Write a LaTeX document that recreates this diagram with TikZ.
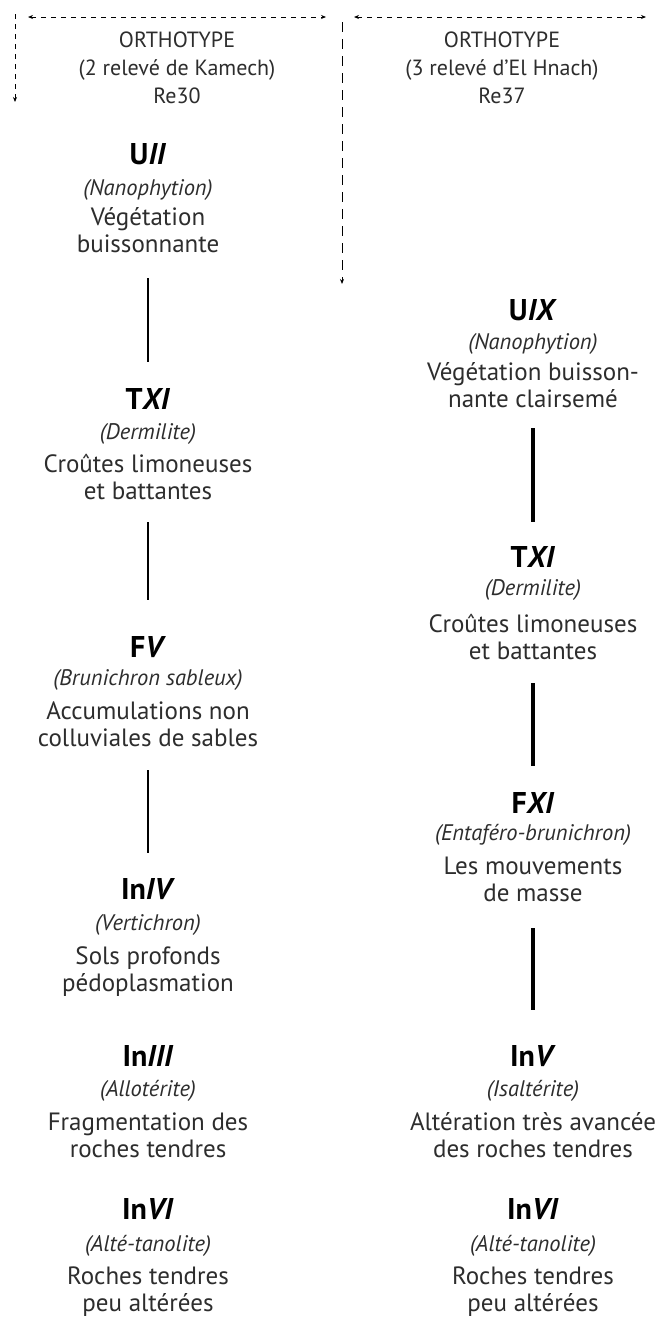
\documentclass[tikz,border=0pt]{standalone}
\usepackage{fontspec}
\setmainfont{PT Sans}
\usetikzlibrary{arrows.meta}
\definecolor{ink}{RGB}{45,45,45}
\tikzset{
  hdr/.style={font=\fontsize{22}{28}\selectfont, align=center, inner sep=0pt, text=ink, anchor=south},
  ttl/.style={font=\fontsize{30}{32}\selectfont\bfseries, inner sep=0pt, text=black, anchor=base},
  lat/.style={font=\fontsize{22.5}{25}\selectfont\itshape, inner sep=0pt, text=ink, anchor=base},
  dsc/.style={font=\fontsize{25}{27}\selectfont, align=center, inner sep=0pt, text=ink, anchor=south},
  thinlink/.style={draw=black, line width=1.3pt},
  thicklink/.style={draw=black, line width=4.2pt},
  dasharrow/.style={draw=black, line width=1pt, dash pattern=on 5pt off 5pt, -{Stealth[length=5pt,width=4pt]}},
  dasharrows/.style={draw=black, line width=1pt, dash pattern=on 5pt off 5pt, {Stealth[length=5pt,width=4pt]}-{Stealth[length=5pt,width=4pt]}},
}
\begin{document}
\begin{tikzpicture}[x=1pt,y=-1pt]
\useasboundingbox[fill=white] (0,0) rectangle (661,1320);

% header arrows
\coordinate (ha1) at (28,17);
\coordinate (ha2) at (326,17);
\coordinate (hb1) at (354,17);
\coordinate (hb2) at (646,17);
\coordinate (va1) at (15,14);
\coordinate (va2) at (15,102);
\coordinate (vb1) at (342,22);
\coordinate (vb2) at (342,284);
\draw[dasharrows] (ha1) -- (ha2);
\draw[dasharrows] (hb1) -- (hb2);
\draw[dasharrow] (va1) -- (va2);
\draw[dasharrow, dash pattern=on 10pt off 7pt] (vb1) -- (vb2);

% headers
\node[hdr] (hL) at (177,104) {ORTHOTYPE\\(2 relevé de Kamech)\\Re30};
\node[hdr] (hR) at (502,104) {ORTHOTYPE\\(3 relevé d'El Hnach)\\Re37};

% left column
\node[ttl] (tL1) at (148,164) {U\textit{II}};
\node[lat] (lL1) at (148,195) {(Nanophytion)};
\node[dsc] (dL1) at (148,253) {Végétation\\buissonnante};

\node[ttl] (tL2) at (148,409) {T\textit{XI}};
\node[lat] (lL2) at (148,439) {(Dermilite)};
\node[dsc] (dL2) at (148,500) {Croûtes limoneuses\\et battantes};

\node[ttl] (tL3) at (148,657) {F\textit{V}};
\node[lat] (lL3) at (148,685) {(Brunichron sableux)};
\node[dsc] (dL3) at (148,747) {Accumulations non\\colluviales de sables};

\node[ttl] (tL4) at (148,899) {In\textit{IV}};
\node[lat] (lL4) at (148,930) {(Vertichron)};
\node[dsc] (dL4) at (148,997) {Sols profonds\\pédoplasmation};

\node[ttl] (tL5) at (148,1066) {In\textit{III}};
\node[lat] (lL5) at (148,1096) {(Allotérite)};
\node[dsc] (dL5) at (148,1158) {Fragmentation des\\roches tendres};

\node[ttl] (tL6) at (148,1219) {In\textit{VI}};
\node[lat] (lL6) at (148,1251) {(Alté-tanolite)};
\node[dsc] (dL6) at (148,1317) {Roches tendres\\peu altérées};

% right column
\node[ttl] (tR1) at (533,320) {U\textit{IX}};
\node[lat] (lR1) at (533,349) {(Nanophytion)};
\node[dsc] (dR1) at (533,408) {Végétation buisson-\\nante clairsemé};

\node[ttl] (tR2) at (533,567) {T\textit{XI}};
\node[lat] (lR2) at (533,595) {(Dermilite)};
\node[dsc] (dR2) at (533,660) {Croûtes limoneuses\\et battantes};

\node[ttl] (tR3) at (533,813) {F\textit{XI}};
\node[lat] (lR3) at (533,840) {(Entaféro-brunichron)};
\node[dsc] (dR3) at (533,902) {Les mouvements\\de masse};

\node[ttl] (tR4) at (533,1066) {In\textit{V}};
\node[lat] (lR4) at (533,1096) {(Isaltérite)};
\node[dsc] (dR4) at (533,1158) {Altération très avancée\\des roches tendres};

\node[ttl] (tR5) at (533,1219) {In\textit{VI}};
\node[lat] (lR5) at (533,1251) {(Alté-tanolite)};
\node[dsc] (dR5) at (533,1317) {Roches tendres\\peu altérées};

% connectors
\draw[thinlink, shorten <=25pt, shorten >=26pt] (dL1.south) -- (dL1.south |- tL2.north);
\draw[thinlink, shorten <=22pt, shorten >=36pt] (dL2.south) -- (dL2.south |- tL3.north);
\draw[thinlink, shorten <=23pt, shorten >=25pt] (dL3.south) -- (dL3.south |- tL4.north);
\draw[thicklink, shorten <=20pt, shorten >=24pt] (dR1.south) -- (dR1.south |- tR2.north);
\draw[thicklink, shorten <=23pt, shorten >=26pt] (dR2.south) -- (dR2.south |- tR3.north);
\draw[thicklink, shorten <=26pt, shorten >=35pt] (dR3.south) -- (dR3.south |- tR4.north);
\end{tikzpicture}
\end{document}
